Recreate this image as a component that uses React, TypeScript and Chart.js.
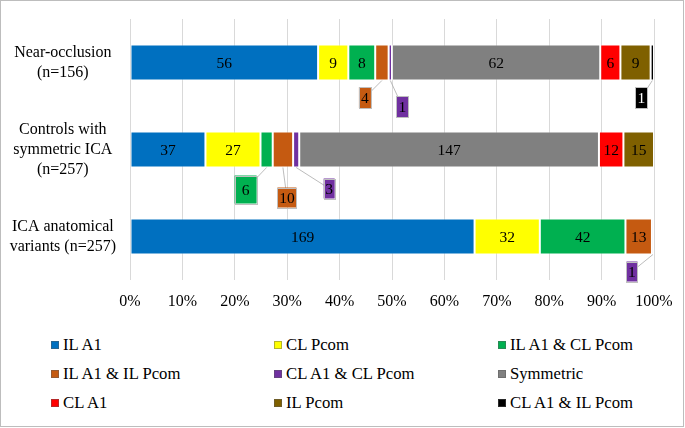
import React, { useEffect, useRef } from "react";
import { Chart, registerables } from "chart.js";
Chart.register(...registerables);

const FONT = "'Liberation Serif', 'Times New Roman', serif";

const categories = [
  ["Near-occlusion", "(n=156)"],
  ["Controls with", "symmetric ICA", "(n=257)"],
  ["ICA anatomical", "variants (n=257)"],
];
const seriesNames = [
  "IL A1",
  "CL Pcom",
  "IL A1 & CL Pcom",
  "IL A1 & IL Pcom",
  "CL A1 & CL Pcom",
  "Symmetric",
  "CL A1",
  "IL Pcom",
  "CL A1 & IL Pcom",
];
const seriesColors = [
  "#0070C0",
  "#FFFF00",
  "#00B050",
  "#C55A11",
  "#7030A0",
  "#808080",
  "#FF0000",
  "#7F6000",
  "#000000",
];
// counts per category: [Near-occlusion, Controls, ICA anatomical variants]
const ilA1 = [56, 37, 169];
const clPcom = [9, 27, 32];
const ilA1ClPcom = [8, 6, 42];
const ilA1IlPcom = [4, 10, 13];
const clA1ClPcom = [1, 3, 1];
const symmetric = [62, 147, 0];
const clA1 = [6, 12, 0];
const ilPcom = [9, 15, 0];
const clA1IlPcom = [1, 0, 0];
const seriesValues = [ilA1, clPcom, ilA1ClPcom, ilA1IlPcom, clA1ClPcom, symmetric, clA1, ilPcom, clA1IlPcom];
const xTickValues = [0, 10, 20, 30, 40, 50, 60, 70, 80, 90, 100];

// callout labels for narrow segments: series index, category index, offset of label from segment bottom
const callouts = [
  { s: 3, c: 0, dx: -17, dy: 17, w: 12, h: 21 },
  { s: 4, c: 0, dx: 12, dy: 26, w: 12, h: 21 },
  { s: 8, c: 0, dx: -11, dy: 17, w: 12, h: 21 },
  { s: 2, c: 1, dx: -21, dy: 22, w: 22, h: 28 },
  { s: 3, c: 1, dx: 4, dy: 30, w: 19, h: 20 },
  { s: 4, c: 1, dx: 33, dy: 21, w: 11, h: 20 },
  { s: 4, c: 2, dx: -21, dy: 17, w: 11, h: 20 },
];

const totals = categories.map((_, j) => seriesValues.reduce((a, arr) => a + arr[j], 0));

const labelPlugin = {
  id: "segLabels",
  afterDatasetsDraw(chart: any) {
    const ctx = chart.ctx;
    ctx.save();
    ctx.font = `15.5px ${FONT}`;
    ctx.textAlign = "center";
    ctx.textBaseline = "middle";
    seriesValues.forEach((vals, i) => {
      const meta = chart.getDatasetMeta(i);
      vals.forEach((v, j) => {
        if (!v) return;
        const el = meta.data[j];
        const p = el.getProps(["x", "y", "base", "height"], true);
        const cx = (p.x + p.base) / 2;
        const co = callouts.find((k) => k.s === i && k.c === j);
        if (co) {
          const by = p.y + p.height / 2;
          const lx = cx + co.dx;
          const ly = by + co.dy;
          ctx.strokeStyle = "#a6a6a6";
          ctx.lineWidth = 0.75;
          ctx.beginPath();
          ctx.moveTo(cx, by);
          ctx.lineTo(lx, ly);
          ctx.stroke();
          ctx.fillStyle = seriesColors[i];
          ctx.fillRect(lx - co.w / 2, ly - co.h / 2, co.w, co.h);
          ctx.strokeStyle = "#bfbfbf";
          ctx.lineWidth = 1;
          ctx.strokeRect(Math.round(lx - co.w / 2) + 0.5, Math.round(ly - co.h / 2) + 0.5, co.w, co.h);
          ctx.fillStyle = seriesColors[i] === "#000000" ? "#ffffff" : "#000000";
          ctx.fillText(String(v), lx, ly + 1);
        } else {
          ctx.fillStyle = "#000000";
          ctx.fillText(String(v), cx, p.y + 1);
        }
      });
    });
    ctx.restore();
  },
};

export default function App() {
  const ref = useRef<HTMLCanvasElement>(null);
  useEffect(() => {
    const chart = new Chart(ref.current as HTMLCanvasElement, {
      type: "bar",
      data: {
        labels: categories as any,
        datasets: seriesNames.map((name, i) => ({
          label: name,
          data: seriesValues[i].map((v, j) => (v / totals[j]) * 100),
          backgroundColor: seriesColors[i],
          borderColor: "rgba(255,255,255,0.45)",
          borderWidth: 1,
          borderSkipped: false,
          categoryPercentage: 1,
          barPercentage: 0.414,
        })),
      },
      options: {
        indexAxis: "y",
        responsive: false,
        animation: false,
        layout: { padding: { top: 19, right: 31, left: 0, bottom: 0 } },
        plugins: { legend: { display: false }, tooltip: { enabled: false } },
        scales: {
          x: {
            stacked: true,
            min: 0,
            max: 100,
            afterBuildTicks: (s: any) => {
              s.ticks = xTickValues.map((v) => ({ value: v }));
            },
            afterFit: (s: any) => {
              s.height = 40;
              s.paddingLeft = 0;
              s.paddingRight = 0;
            },
            ticks: {
              callback: (v: any) => v + "%",
              color: "#000",
              font: { family: FONT, size: 16 },
              padding: 12,
              maxRotation: 0,
            },
            grid: { color: "#d9d9d9", drawTicks: false, lineWidth: 1 },
            border: { display: false },
          },
          y: {
            stacked: true,
            afterFit: (s: any) => {
              s.width = 130;
              s.paddingTop = 0;
              s.paddingBottom = 0;
            },
            ticks: {
              color: "#000",
              font: { family: FONT, size: 16, lineHeight: 1.25 },
              crossAlign: "center",
              padding: 14,
            },
            grid: { display: false, drawTicks: false },
            border: { display: false },
          },
        },
      },
      plugins: [labelPlugin],
    } as any);
    return () => chart.destroy();
  }, []);

  const cols = [51, 274, 498];
  const rows = [345, 374, 403];

  return (
    <div style={{ position: "absolute", left: 0, top: 0, width: 685, height: 428, background: "#fff", fontFamily: FONT }}>
      <canvas ref={ref} width={685} height={320} style={{ position: "absolute", left: 0, top: 0 }} />
      {seriesNames.map((name, i) => {
        const col = i % 3;
        const row = Math.floor(i / 3);
        return (
          <div
            key={name}
            style={{
              position: "absolute",
              left: cols[col],
              top: rows[row] - 10,
              height: 20,
              display: "flex",
              alignItems: "center",
              fontSize: 16.7,
              color: "#000",
              whiteSpace: "nowrap",
            }}
          >
            <span
              style={{
                display: "inline-block",
                width: 8,
                height: 8,
                boxSizing: "border-box",
                background: seriesColors[i],
                border: "1px solid rgba(90,90,90,0.45)",
                marginRight: 4,
              }}
            />
            <span>{name}</span>
          </div>
        );
      })}
      <div
        style={{
          position: "absolute",
          left: 0,
          top: 0,
          width: 684,
          height: 427,
          boxSizing: "border-box",
          border: "1.5px solid #bdbdbd",
          pointerEvents: "none",
        }}
      />
    </div>
  );
}
